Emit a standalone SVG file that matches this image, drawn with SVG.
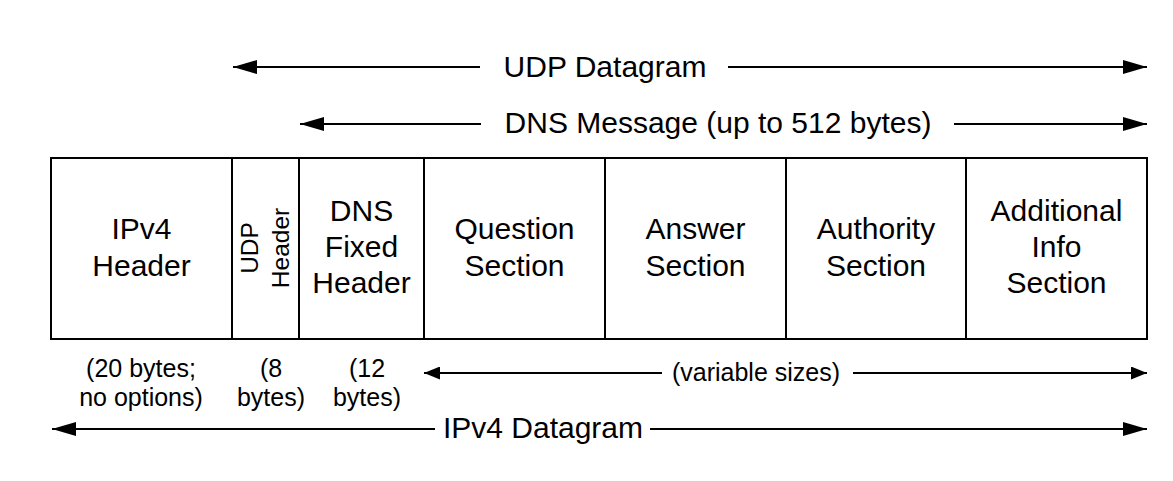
<svg xmlns="http://www.w3.org/2000/svg" width="1173" height="481" viewBox="0 0 1173 481">
<style>
text{font-family:"Liberation Sans",Arial,sans-serif;fill:#000;text-anchor:middle}
.b{font-size:30px}
.s{font-size:25px}
.r{font-size:24.5px}
.box{fill:#fff;stroke:#000;stroke-width:2}
.ln{fill:none;stroke:#000;stroke-width:2}
</style>
<defs>
<marker id="ah" viewBox="0 0 24 14" refX="24" refY="7" markerWidth="24" markerHeight="14" markerUnits="userSpaceOnUse" orient="auto-start-reverse"><path d="M0,0 L24,7 L0,14 z" fill="#000"/></marker>
<marker id="as" viewBox="0 0 16 13" refX="16" refY="6.5" markerWidth="16" markerHeight="13" markerUnits="userSpaceOnUse" orient="auto-start-reverse"><path d="M0,0 L16,6.5 L0,13 z" fill="#000"/></marker>
</defs>
<rect width="1173" height="481" fill="#fff"/>
<g id="ipv4-header"><rect class="box" x="51" y="158" width="181" height="181"/><text class="b" x="141.5" y="239">IPv4</text><text class="b" x="141.5" y="276">Header</text></g>
<g id="udp-header"><rect class="box" x="232" y="158" width="67" height="181"/><text class="r" transform="translate(258,248) rotate(-90)">UDP</text><text class="r" transform="translate(289,248) rotate(-90)">Header</text></g>
<g id="dns-fixed-header"><rect class="box" x="299" y="158" width="125" height="181"/><text class="b" x="361.5" y="221">DNS</text><text class="b" x="361.5" y="257">Fixed</text><text class="b" x="361.5" y="293">Header</text></g>
<g id="question-section"><rect class="box" x="424" y="158" width="181" height="181"/><text class="b" x="514.5" y="239">Question</text><text class="b" x="514.5" y="276">Section</text></g>
<g id="answer-section"><rect class="box" x="605" y="158" width="181" height="181"/><text class="b" x="695.5" y="239">Answer</text><text class="b" x="695.5" y="276">Section</text></g>
<g id="authority-section"><rect class="box" x="786" y="158" width="180" height="181"/><text class="b" x="876" y="239">Authority</text><text class="b" x="876" y="276">Section</text></g>
<g id="additional-section"><rect class="box" x="966" y="158" width="181" height="181"/><text class="b" x="1056.5" y="221">Additional</text><text class="b" x="1056.5" y="257">Info</text><text class="b" x="1056.5" y="293">Section</text></g>
<g id="size-labels">
<text class="s" x="141" y="377">(20 bytes;</text><text class="s" x="141" y="406">no options)</text>
<text class="s" x="271" y="377">(8</text><text class="s" x="271" y="406">bytes)</text>
<text class="s" x="367" y="377">(12</text><text class="s" x="367" y="406">bytes)</text>
</g>
<g id="connectors">
<path class="ln" d="M480,67 H233" marker-end="url(#ah)"/>
<path class="ln" d="M728,67 H1147" marker-end="url(#ah)"/>
<path class="ln" d="M481,124 H300" marker-end="url(#ah)"/>
<path class="ln" d="M954,124 H1147" marker-end="url(#ah)"/>
<path class="ln" d="M662,373 H424" marker-end="url(#as)"/>
<path class="ln" d="M853,373 H1147" marker-end="url(#as)"/>
<path class="ln" d="M435,429 H52" marker-end="url(#ah)"/>
<path class="ln" d="M650,429 H1147" marker-end="url(#ah)"/>
</g>
<g id="arrow-labels">
<text class="b" x="605" y="77">UDP Datagram</text>
<text class="b" x="718" y="133">DNS Message (up to 512 bytes)</text>
<text class="s" x="756" y="381">(variable sizes)</text>
<text class="b" x="543" y="438">IPv4 Datagram</text>
</g>
</svg>
